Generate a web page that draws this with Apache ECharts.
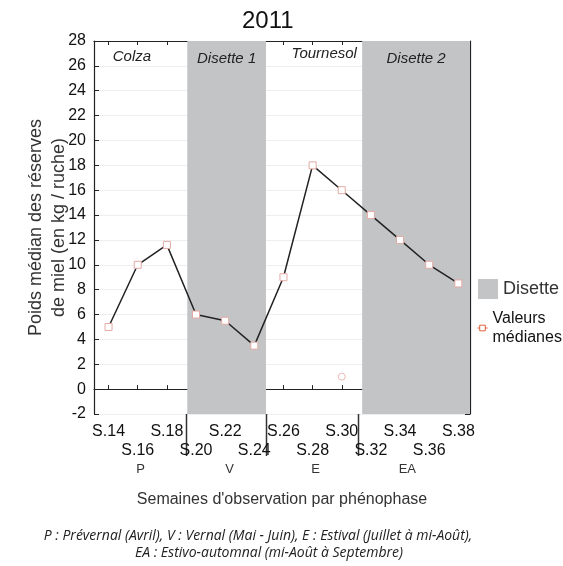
<!DOCTYPE html>
<html><head><meta charset="utf-8">
<script src="https://cdn.jsdelivr.net/npm/echarts@6/dist/echarts.min.js"></script>
<style>html,body{margin:0;padding:0;background:#fff}#c{width:563px;height:566px}</style>
</head><body><div id="c"></div>
<script>
const chartTitle = '2011';
const weeks = [14, 16, 18, 20, 22, 24, 26, 28, 30, 32, 34, 36, 38];
const medianValues = [5, 10, 11.6, 6, 5.5, 3.5, 9, 18, 16, 14, 12, 10, 8.5];
const outlierPoints = [[30, 1]];
const phaseNames = ['P', 'V', 'E', 'EA'];
const phaseCenters = [16.2, 22.3, 28.2, 34.5];
const phaseBounds = [19.3, 24.8, 31.1];
const shadedNames = ['Disette 1', 'Disette 2'];
const shadedStart = [19.4, 31.4];
const shadedEnd = [24.8, 38.8];
const cropNames = ['Colza', 'Tournesol'];
const cropX = [15.6, 28.8];
const cropY = [26.7, 27.0];
const captionLines = [
  'P : Prévernal (Avril), V : Vernal (Mai - Juin), E : Estival (Juillet à mi-Août),',
  'EA : Estivo-automnal (mi-Août à Septembre)'
];

const X_MIN = 13, X_MAX = 38.8;
const FONT = '"Liberation Sans", Arial, sans-serif';
const GRAY = '#c3c4c6';
const near = (arr, v) => arr.findIndex(a => Math.abs(a - v) < 1e-6);
const rowOne = weeks.filter((_, i) => i % 2 === 0);
const rowTwo = weeks.filter((_, i) => i % 2 === 1);
const weekLabel = v => 'S.' + Math.round(v);

const chart = echarts.init(document.getElementById('c'), null, {renderer: 'canvas'});
chart.setOption({
  animation: false,
  textStyle: {fontFamily: FONT},
  title: {text: chartTitle, left: 237, top: 4, textStyle: {fontSize: 24, fontWeight: 'normal', color: '#111', fontFamily: FONT}},
  grid: {left: 94, right: 93, top: 41, bottom: 152, containLabel: false},
  legend: [
    {data: ['Disette'], left: 478, top: 279, padding: 0, itemWidth: 20, itemHeight: 20, icon: 'rect', selectedMode: false,
     textStyle: {fontSize: 18, color: '#333', fontFamily: FONT}},
    {data: [{name: 'Valeurs médianes', itemStyle: {color: '#fff', borderColor: '#e0603c', borderWidth: 1},
             lineStyle: {color: '#e0603c', type: 'dashed', width: 1}}],
     left: 477, top: 309, padding: 0, itemWidth: 10, itemHeight: 7, selectedMode: false,
     formatter: () => 'Valeurs\nmédianes',
     textStyle: {fontSize: 16, lineHeight: 19, color: '#111', fontFamily: FONT}}
  ],
  xAxis: [
    {type: 'value', min: X_MIN, max: X_MAX, position: 'bottom',
     axisLine: {show: true, lineStyle: {color: '#222', width: 1.2}},
     axisTick: {show: true, inside: true, length: 4, customValues: weeks, lineStyle: {color: '#222'}},
     axisLabel: {customValues: rowOne, margin: 10, fontSize: 16, color: '#111', formatter: weekLabel},
     splitLine: {show: false},
     name: "Semaines d'observation par phénophase", nameLocation: 'middle', nameGap: 78, nameMoveOverlap: false,
     nameTextStyle: {fontSize: 16, color: '#333', fontFamily: FONT}},
    {type: 'value', min: X_MIN, max: X_MAX, position: 'bottom',
     axisLine: {show: false}, axisTick: {show: false},
     axisLabel: {customValues: rowTwo, margin: 29, fontSize: 16, color: '#111', formatter: weekLabel},
     splitLine: {show: false}},
    {type: 'value', min: X_MIN, max: X_MAX, position: 'bottom',
     axisLine: {show: false}, axisTick: {show: false},
     axisLabel: {customValues: phaseCenters, margin: 49, fontSize: 13, color: '#333',
       formatter: v => phaseNames[near(phaseCenters, v)]},
     splitLine: {show: false}},
    {type: 'value', min: X_MIN, max: X_MAX, position: 'top',
     axisLine: {show: true, lineStyle: {color: '#222', width: 1.2}},
     axisTick: {show: true, inside: true, length: 4, customValues: weeks, lineStyle: {color: '#222'}},
     axisLabel: {show: false}, splitLine: {show: false}}
  ],
  yAxis: [
    {type: 'value', min: -2, max: 28, interval: 2, position: 'left',
     axisLine: {show: true, lineStyle: {color: '#222', width: 1.2}},
     axisTick: {show: true, inside: true, length: 5, lineStyle: {color: '#222'}},
     axisLabel: {fontSize: 16, color: '#111', margin: 8},
     splitLine: {show: true, lineStyle: {color: '#eeeeee', width: 1}},
     name: 'Poids médian des réserves\nde miel (en kg / ruche)', nameLocation: 'middle', nameGap: 23, nameRotate: 90,
     nameMoveOverlap: false,
     nameTextStyle: {fontSize: 18, lineHeight: 23, color: '#333', fontFamily: FONT}},
    {type: 'value', min: -2, max: 28, interval: 2, position: 'right',
     axisLine: {show: true, lineStyle: {color: '#222', width: 1.2}},
     axisTick: {show: true, inside: true, length: 5, lineStyle: {color: '#222'}},
     axisLabel: {show: false}, splitLine: {show: false}}
  ],
  series: [
    {name: 'Disette', type: 'line', data: [], color: GRAY, itemStyle: {color: GRAY}},
    {name: 'Valeurs médianes', type: 'line', xAxisIndex: 0, yAxisIndex: 0,
     data: weeks.map((w, i) => [w, medianValues[i]]),
     symbol: 'rect', symbolSize: 7, showAllSymbol: true, z: 5,
     itemStyle: {color: '#fff', borderColor: '#e3aaa5', borderWidth: 1},
     lineStyle: {color: '#222', width: 1.5},
     markArea: {silent: true, itemStyle: {color: GRAY},
       label: {show: true, position: 'insideTop', distance: 10, fontStyle: 'italic', fontSize: 15, color: '#222', fontFamily: FONT},
       data: shadedNames.map((n, i) => [{name: n, xAxis: shadedStart[i]}, {xAxis: shadedEnd[i]}])},
     markPoint: {silent: true, symbol: 'circle', symbolSize: 0,
       label: {show: true, position: 'inside', fontStyle: 'italic', fontSize: 15, color: '#222', fontFamily: FONT,
         formatter: p => p.name},
       data: cropNames.map((n, i) => ({name: n, coord: [cropX[i], cropY[i]]}))}
    },
    {name: 'Valeur isolée', type: 'scatter', data: outlierPoints, symbol: 'circle', symbolSize: 7, z: 5,
     itemStyle: {color: '#fff', borderColor: '#e3aaa5', borderWidth: 1}}
  ]
});

// phase separators below the axis, positioned through the x scale
const yBottom = chart.convertToPixel({yAxisIndex: 0}, -2);
const separators = phaseBounds.map(b => {
  const x = Math.round(chart.convertToPixel({xAxisIndex: 0}, b)) + 0.5;
  return {type: 'line', shape: {x1: x, y1: yBottom, x2: x, y2: yBottom + 42},
          style: {stroke: '#333', lineWidth: 1.5}, silent: true};
});
chart.setOption({
  graphic: separators.concat([
    {type: 'text', x: 258, y: 536, style: {text: captionLines[0], align: 'center', verticalAlign: 'middle',
      font: 'italic 14px "Open Sans", sans-serif', fill: '#222'}},
    {type: 'text', x: 269, y: 553, style: {text: captionLines[1], align: 'center', verticalAlign: 'middle',
      font: 'italic 14px "Open Sans", sans-serif', fill: '#222'}}
  ])
});
</script></body></html>
